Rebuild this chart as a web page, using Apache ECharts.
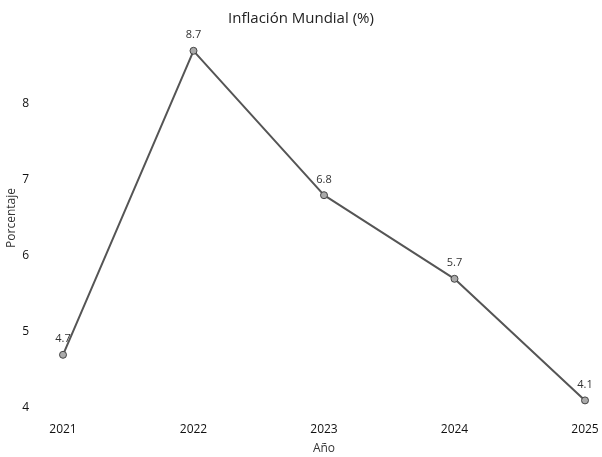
<!DOCTYPE html>
<html>
<head>
<meta charset="utf-8">
<script src="https://cdn.jsdelivr.net/npm/echarts@6/dist/echarts.min.js"></script>
<style>html,body{margin:0;padding:0;background:#fff}#main{width:602px;height:457px}</style>
</head>
<body>
<div id="main"></div>
<script>
var years = ['2021', '2022', '2023', '2024', '2025'];
var inflation = [4.7, 8.7, 6.8, 5.7, 4.1];

var myChart = echarts.init(document.getElementById('main'));

var option = {
  backgroundColor: '#fff',
  textStyle: { fontFamily: 'Open Sans' },
  title: {
    text: 'Inflación Mundial (%)',
    left: 'center',
    top: 6,
    textStyle: { fontSize: 15, fontWeight: 'normal', color: '#222', fontFamily: 'Open Sans' }
  },
  grid: { left: 63, right: 17, top: 28, bottom: 49, outerBoundsMode: 'none', containLabel: false },
  xAxis: {
    type: 'category',
    data: years,
    boundaryGap: false,
    name: 'Año',
    nameLocation: 'middle',
    nameGap: 35,
    nameTextStyle: { color: '#333', fontSize: 12 },
    axisLine: { show: false },
    axisTick: { show: false },
    axisLabel: { color: '#111', fontSize: 12, margin: 16 }
  },
  yAxis: {
    type: 'value',
    min: 4,
    max: 9,
    interval: 1,
    name: 'Porcentaje',
    nameLocation: 'middle',
    nameGap: 45,
    nameMoveOverlap: false,
    nameTextStyle: { color: '#333', fontSize: 12 },
    axisLine: { show: false },
    axisTick: { show: false },
    splitLine: { show: false },
    axisLabel: { color: '#111', fontSize: 12, margin: 34, showMaxLabel: false }
  },
  series: [{
    type: 'line',
    data: inflation,
    symbol: 'circle',
    symbolSize: 7,
    lineStyle: { color: '#555', width: 2 },
    itemStyle: { color: '#aaa', borderColor: '#444', borderWidth: 1 },
    label: { show: true, position: 'top', color: '#333', fontSize: 11, distance: 6 }
  }]
};
myChart.setOption(option);
</script>
</body>
</html>
